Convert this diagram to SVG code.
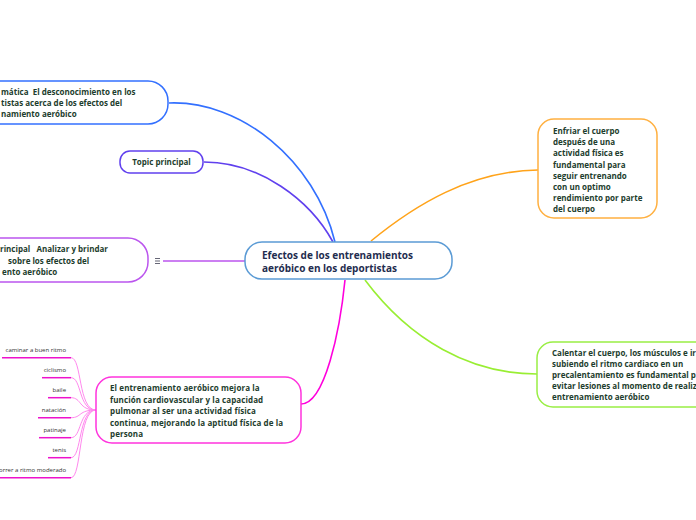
<svg xmlns="http://www.w3.org/2000/svg" width="696" height="520" viewBox="0 0 696 520">
<style>
.box{fill:#fff;stroke-width:1.5}
text{white-space:pre}
.t{font-family:"Open Sans","DejaVu Sans",sans-serif;font-weight:bold;font-size:8px;fill:#1d3d2d}
.c{font-family:"Open Sans","DejaVu Sans",sans-serif;font-weight:bold;font-size:10px;fill:#1f2d4f}
.s{font-family:"Open Sans","DejaVu Sans",sans-serif;font-size:6px;fill:#333;text-anchor:end}
.ln{fill:none;stroke-width:1.6}
.sub{fill:none;stroke:#ff88ee;stroke-width:1}
.ul{stroke:#ee11cc;stroke-width:1.5}
.ic{stroke:#556;stroke-width:0.9}
</style>
<rect width="696" height="520" fill="#fff"/>
<g id="connectors">
<path class="ln" stroke="#3370ff" d="M169,103 C240,100 315,160 335,242"/>
<path class="ln" stroke="#6040ee" d="M204,162 C260,162 310,200 333,242"/>
<path class="ln" stroke="#bb55ee" d="M163,261 L245,261"/>
<path class="ln" stroke="#ffa31a" d="M371,241 C415,205 470,171 538,170"/>
<path class="ln" stroke="#99ee33" d="M365,280 C410,340 470,374 537,374"/>
<path class="ln" stroke="#ff00dd" d="M345,280 C340,330 325,404 301,404"/>
<path class="sub" d="M71,357.7 C82,357.7 78,410 96,410"/>
<path class="sub" d="M71,377.7 C82,377.7 78,410 96,410"/>
<path class="sub" d="M71,397.7 C82,397.7 78,410 96,410"/>
<path class="sub" d="M71,417.7 C82,417.7 78,410 96,410"/>
<path class="sub" d="M71,437.7 C82,437.7 78,410 96,410"/>
<path class="sub" d="M71,457.7 C82,457.7 78,410 96,410"/>
<path class="sub" d="M71,477.7 C82,477.7 78,410 96,410"/>
</g>
<g id="central">
<rect class="box" x="245" y="242" width="207" height="37" rx="17" stroke="#5b9bd5"/>
<text class="c" x="262" y="258.5">Efectos de los entrenamientos</text>
<text class="c" x="262" y="271.5">aeróbico en los deportistas</text>
</g>
<g id="problematica">
<rect class="box" x="-20" y="81" width="188" height="43" rx="20" stroke="#3370ff"/>
<text class="t" x="1" y="95">mática  El desconocimiento en los</text>
<text class="t" x="1" y="106">tistas acerca de los efectos del</text>
<text class="t" x="1" y="117">namiento aeróbico</text>
</g>
<g id="topic">
<rect class="box" x="120" y="151" width="83" height="22" rx="10" stroke="#6040ee"/>
<text class="t" x="161.5" y="165" text-anchor="middle">Topic principal</text>
</g>
<g id="objetivo">
<rect class="box" x="-20" y="238" width="168" height="44" rx="20" stroke="#bb55ee"/>
<text class="t" x="0" y="252">rincipal   Analizar y brindar</text>
<text class="t" x="8" y="263.5">sobre los efectos del</text>
<text class="t" x="2" y="275">ento aeróbico</text>
<path class="ic" d="M155,258.5h5M155,261h5M155,263.5h5"/>
</g>
<g id="enfriar">
<rect class="box" x="538" y="119" width="119" height="99" rx="16" stroke="#ffb040"/>
<text class="t" x="553" y="134">Enfriar el cuerpo</text>
<text class="t" x="553" y="145.2">después de una</text>
<text class="t" x="553" y="156.4">actividad física es</text>
<text class="t" x="553" y="167.6">fundamental para</text>
<text class="t" x="553" y="178.8">seguir entrenando</text>
<text class="t" x="553" y="190">con un optimo</text>
<text class="t" x="553" y="201.2">rendimiento por parte</text>
<text class="t" x="553" y="212.4">del cuerpo</text>
</g>
<g id="calentar">
<rect class="box" x="537" y="342" width="180" height="65" rx="16" stroke="#99ee44"/>
<text class="t" x="552" y="356">Calentar el cuerpo, los músculos e ir</text>
<text class="t" x="552" y="367">subiendo el ritmo cardiaco en un</text>
<text class="t" x="552" y="378">precalentamiento es fundamental p</text>
<text class="t" x="552" y="389">evitar lesiones al momento de realiz</text>
<text class="t" x="552" y="400">entrenamiento aeróbico</text>
</g>
<g id="entrenamiento">
<rect class="box" x="96" y="377" width="205" height="66" rx="16" stroke="#ff33dd"/>
<text class="t" x="110" y="391" letter-spacing="0.1">El entrenamiento aeróbico mejora la</text>
<text class="t" x="110" y="402.5" letter-spacing="0.1">función cardiovascular y la capacidad</text>
<text class="t" x="110" y="414" letter-spacing="0.1">pulmonar al ser una actividad física</text>
<text class="t" x="110" y="425.5" letter-spacing="0.1">continua, mejorando la aptitud física de la</text>
<text class="t" x="110" y="437" letter-spacing="0.1">persona</text>
</g>
<g id="caminar"><text class="s" x="66" y="352">caminar a buen ritmo</text><line class="ul" x1="2" y1="357.7" x2="71" y2="357.7"/></g>
<g id="ciclismo"><text class="s" x="66" y="372">ciclismo</text><line class="ul" x1="42" y1="377.7" x2="71" y2="377.7"/></g>
<g id="baile"><text class="s" x="66" y="392">baile</text><line class="ul" x1="48" y1="397.7" x2="71" y2="397.7"/></g>
<g id="natacion"><text class="s" x="66" y="412">natación</text><line class="ul" x1="38" y1="417.7" x2="71" y2="417.7"/></g>
<g id="patinaje"><text class="s" x="66" y="432">patinaje</text><line class="ul" x1="39" y1="437.7" x2="71" y2="437.7"/></g>
<g id="tenis"><text class="s" x="66" y="452">tenis</text><line class="ul" x1="48" y1="457.7" x2="71" y2="457.7"/></g>
<g id="correr"><text class="s" x="66" y="472">correr a ritmo moderado</text><line class="ul" x1="0" y1="477.7" x2="71" y2="477.7"/></g>
</svg>
